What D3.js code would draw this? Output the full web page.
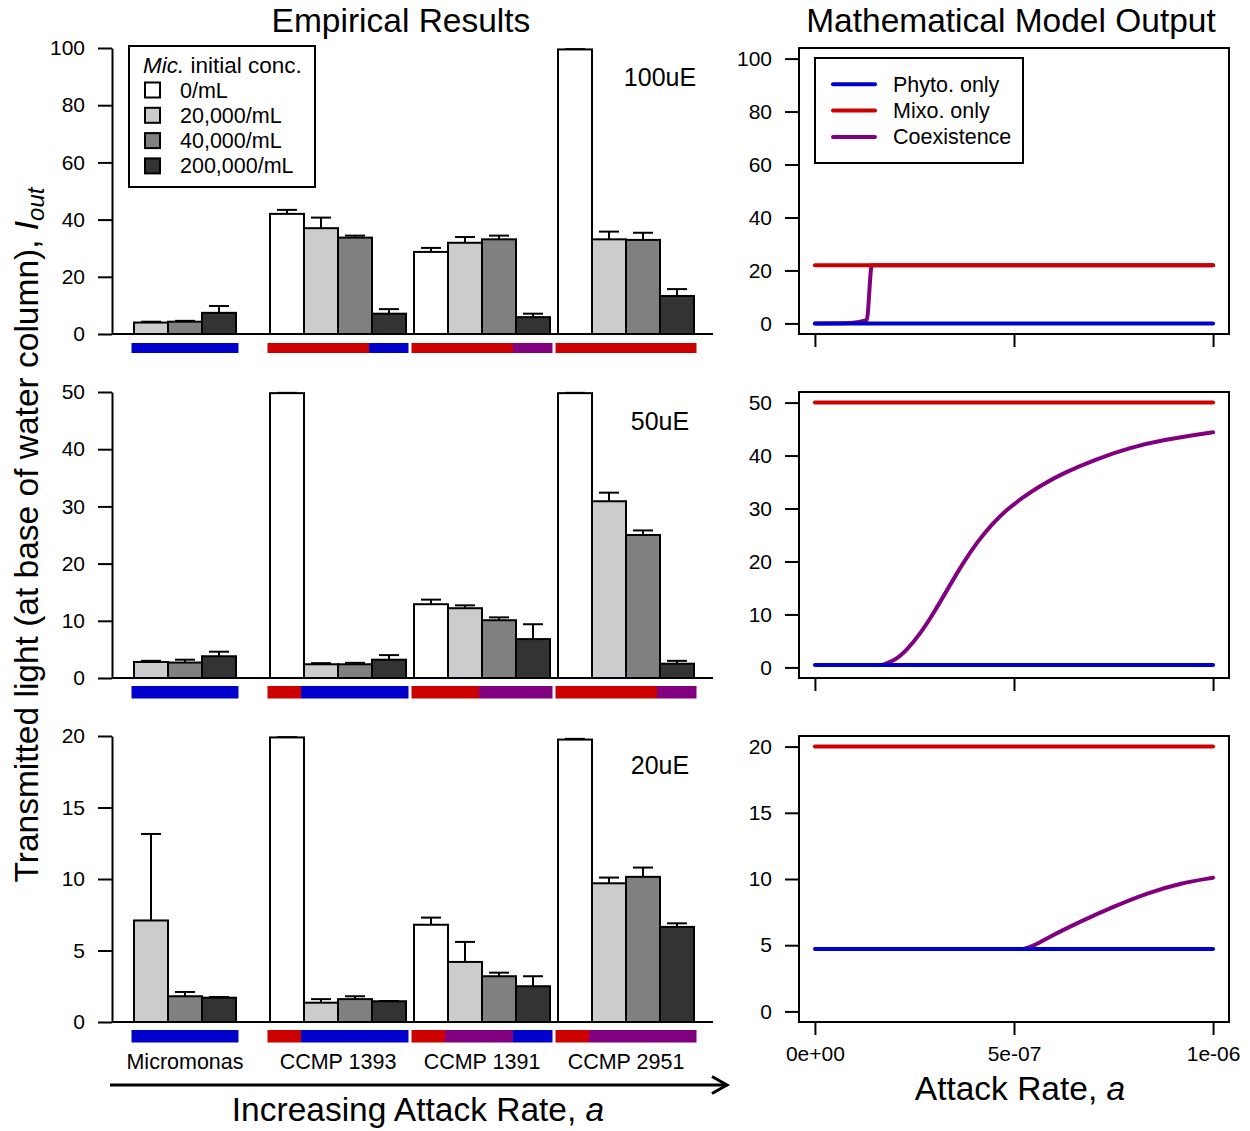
<!DOCTYPE html>
<html>
<head>
<meta charset="utf-8">
<script src="https://cdn.jsdelivr.net/npm/d3@7"></script>
<style>
  body { margin: 0; background: #fff; }
  svg text { font-family: "Liberation Sans", Arial, Helvetica, sans-serif; fill: #000; }
</style>
</head>
<body>
<div class="chart"></div>
<script>
// ---- data ----
const strains = ["Micromonas", "CCMP 1393", "CCMP 1391", "CCMP 2951"];
const concLabels = ["0/mL", "20,000/mL", "40,000/mL", "200,000/mL"];
const lightLevels = ["100uE", "50uE", "20uE"];
const yTicks = [[0, 20, 40, 60, 80, 100], [0, 10, 20, 30, 40, 50], [0, 5, 10, 15, 20]];

// bar means, one row per strain, one column per Mic. conc (null = not measured)
const means100 = [[null, 4.0, 4.3, 7.4], [42.0, 37.0, 33.7, 7.1], [28.7, 31.9, 33.1, 5.9], [99.5, 33.1, 32.9, 13.3]];
const se100    = [[null, 0.3, 0.3, 2.4], [1.4, 3.7, 0.7, 1.6], [1.4, 2.0, 1.3, 1.2], [0.1, 2.7, 2.5, 2.4]];
const means50  = [[null, 2.8, 2.7, 3.8], [49.8, 2.4, 2.4, 3.2], [12.9, 12.2, 10.1, 6.8], [49.8, 30.9, 25.0, 2.5]];
const se50     = [[null, 0.2, 0.5, 0.8], [0.05, 0.2, 0.25, 0.8], [0.8, 0.5, 0.5, 2.6], [0.05, 1.5, 0.8, 0.5]];
const means20  = [[null, 7.1, 1.8, 1.7], [19.9, 1.35, 1.6, 1.45], [6.8, 4.2, 3.2, 2.5], [19.75, 9.7, 10.15, 6.65]];
const se20     = [[null, 6.05, 0.3, 0.05], [0.02, 0.25, 0.2, 0.02], [0.5, 1.4, 0.25, 0.7], [0.05, 0.4, 0.65, 0.25]];

// model outcome under each bar: P = phyto only, M = mixo only, C = coexistence
const outcome100 = [[null, "P", "P", "P"], ["M", "M", "M", "P"], ["M", "M", "M", "C"], ["M", "M", "M", "M"]];
const outcome50  = [[null, "P", "P", "P"], ["M", "P", "P", "P"], ["M", "M", "C", "C"], ["M", "M", "M", "C"]];
const outcome20  = [[null, "P", "P", "P"], ["M", "P", "P", "P"], ["M", "C", "C", "P"], ["M", "C", "C", "C"]];

// model output
const attackTicks = [0, 5e-7, 1e-6];
const attackTickLabels = ["0e+00", "5e-07", "1e-06"];
const modelSeries = ["Phyto. only", "Mixo. only", "Coexistence"];
const flatA = [0, 1e-6];
const phyto100 = [0, 0],       mixo100 = [22, 22];
const phyto50  = [0.45, 0.45], mixo50  = [50, 50];
const phyto20  = [4.71, 4.71], mixo20  = [20, 20];
// coexistence curves, from where they leave the phyto-only line
const coexA100 = [0, 0.9e-7, 1.3e-7, 1.43e-7, 1e-6];
const coex100  = [0, 0.2, 1.2, 22, 22];
const coexA50  = [1.68e-7, 2.0e-7, 2.3e-7, 2.65e-7, 2.99e-7, 3.35e-7, 3.72e-7, 4.1e-7, 4.45e-7, 4.82e-7,
                  5.2e-7, 5.7e-7, 6.24e-7, 7.08e-7, 7.92e-7, 8.75e-7, 1e-6];
const coex50   = [0.45, 1.25, 3.2, 6.4, 10.35, 15.0, 19.75, 23.9, 27.1, 29.8,
                  32.0, 34.5, 36.7, 39.4, 41.5, 43.0, 44.4];
const coexA20  = [5.24e-7, 5.5e-7, 5.82e-7, 6.66e-7, 7.5e-7, 8.33e-7, 9.17e-7, 1e-6];
const coex20   = [4.71, 4.95, 5.52, 6.78, 7.91, 8.92, 9.68, 10.1];

function init(){

    const w = 1250, h = 1131;
    const font = "'Liberation Sans', Arial, sans-serif";

    // colours
    const concFill = ["#ffffff", "#cccccc", "#808080", "#333333"];
    const outcomeColor = {P: "#0000cd", M: "#cd0000", C: "#800080"};
    const seriesColor = ["#0000cd", "#cd0000", "#800080"];

    const svg = d3.select(".chart").append("svg").attr("width", w).attr("height", h);

    // panel layout
    const panelTop = [48, 392, 736], panelH = 286;
    const leftAxisX = 112, leftEndX = 713;
    const barW = 34;
    const groupStart = [100, 270, 414, 558];   // x of slot 0 in each group
    const stripOff = [9, 8, 8], stripH = [10, 12.5, 12.5];
    const boxL = 799, boxR = 1229;

    const means = [means100, means50, means20];
    const ses = [se100, se50, se20];
    const outcomes = [outcome100, outcome50, outcome20];
    const phyto = [phyto100, phyto50, phyto20];
    const mixo = [mixo100, mixo50, mixo20];
    const coexA = [coexA100, coexA50, coexA20];
    const coex = [coex100, coex50, coex20];

    function styleAxis(g){
        g.attr("font-size", 21).attr("font-family", font);
        g.selectAll("line").attr("stroke", "#000").attr("stroke-width", 2);
        g.selectAll("path").attr("stroke", "#000").attr("stroke-width", 2);
        g.selectAll("text").attr("fill", "#000");
    }

    const xR = d3.scaleLinear().domain([-0.04e-6, 1.04e-6]).range([boxL, boxR]);

    for (let i = 0; i < 3; i++){
        const top = panelTop[i];
        const ymax = d3.max(yTicks[i]);

        // ---------- empirical bars ----------
        const yL = d3.scaleLinear().domain([0, ymax]).range([top + panelH, top]);

        svg.append("g")
            .attr("transform", `translate(${leftAxisX},0)`)
            .call(d3.axisLeft(yL).tickValues(yTicks[i]).tickSize(14).tickPadding(13).tickSizeOuter(0))
            .call(styleAxis);

        svg.append("line")
            .attr("x1", leftAxisX).attr("x2", leftEndX)
            .attr("y1", yL(0)).attr("y2", yL(0))
            .attr("stroke", "#000").attr("stroke-width", 2);

        const rows = [];
        means[i].forEach((row, g) => row.forEach((m, c) => {
            if (m !== null) rows.push({g: g, c: c, mean: m, se: ses[i][g][c], out: outcomes[i][g][c]});
        }));

        // outcome strips under the bars
        const segLeft = d => groupStart[d.g] + d.c * barW - (d.c === (d.g === 0 ? 1 : 0) ? 2.5 : 3);
        const segRight = d => d.c === 3 ? groupStart[d.g] + 4 * barW + 2.5 : groupStart[d.g] + (d.c + 1) * barW - 3;
        svg.append("g").selectAll("rect")
            .data(rows)
            .join("rect")
            .attr("x", segLeft)
            .attr("width", d => segRight(d) - segLeft(d))
            .attr("y", yL(0) + stripOff[i])
            .attr("height", stripH[i])
            .attr("fill", d => outcomeColor[d.out]);

        // error bars first, bars drawn over the lower half
        const eb = svg.append("g").selectAll("g")
            .data(rows)
            .join("g")
            .attr("stroke", "#000").attr("stroke-width", 2);
        eb.append("line")
            .attr("x1", d => groupStart[d.g] + (d.c + 0.5) * barW)
            .attr("x2", d => groupStart[d.g] + (d.c + 0.5) * barW)
            .attr("y1", d => yL(d.mean)).attr("y2", d => yL(d.mean + d.se));
        eb.append("line")
            .attr("x1", d => groupStart[d.g] + (d.c + 0.5) * barW - 10)
            .attr("x2", d => groupStart[d.g] + (d.c + 0.5) * barW + 10)
            .attr("y1", d => yL(d.mean + d.se)).attr("y2", d => yL(d.mean + d.se));

        svg.append("g").selectAll("rect")
            .data(rows)
            .join("rect")
            .attr("x", d => groupStart[d.g] + d.c * barW)
            .attr("y", d => yL(d.mean))
            .attr("width", barW)
            .attr("height", d => yL(0) - yL(d.mean))
            .attr("fill", d => concFill[d.c])
            .attr("stroke", "#000").attr("stroke-width", 2);

        svg.append("text")
            .attr("x", 660).attr("y", top + 38)
            .attr("text-anchor", "middle")
            .attr("font-size", 25)
            .text(lightLevels[i]);

        // ---------- model output ----------
        const yR = d3.scaleLinear().domain([-0.04 * ymax, 1.04 * ymax]).range([top + panelH, top]);

        svg.append("g")
            .attr("transform", `translate(${boxL},0)`)
            .call(d3.axisLeft(yR).tickValues(yTicks[i]).tickSize(14).tickPadding(13))
            .call(styleAxis)
            .call(g => g.select(".domain").remove());

        svg.append("g")
            .attr("transform", `translate(0,${top + panelH})`)
            .call(d3.axisBottom(xR).tickValues(attackTicks).tickSize(13).tickPadding(11)
                .tickFormat((d, j) => i === 2 ? attackTickLabels[j] : ""))
            .call(styleAxis)
            .call(g => g.select(".domain").remove());

        // the 100uE curve jumps, the others are smooth
        const curve = i === 0 ? d3.curveMonotoneX : d3.curveBasis;
        const line = d3.line().x(d => xR(d[0])).y(d => yR(d[1])).curve(curve);
        const flat = d3.line().x(d => xR(d[0])).y(d => yR(d[1]));
        const lines = [
            {d: line(d3.zip(coexA[i], coex[i])), col: seriesColor[2]},
            {d: flat(d3.zip(flatA, phyto[i])), col: seriesColor[0]},
            {d: flat(d3.zip(flatA, mixo[i])), col: seriesColor[1]}
        ];
        svg.append("g").selectAll("path")
            .data(lines)
            .join("path")
            .attr("d", d => d.d)
            .attr("fill", "none")
            .attr("stroke", d => d.col)
            .attr("stroke-width", 4)
            .attr("stroke-linecap", "round")
            .attr("stroke-linejoin", "round");

        svg.append("rect")
            .attr("x", boxL).attr("y", top)
            .attr("width", boxR - boxL).attr("height", panelH)
            .attr("fill", "none").attr("stroke", "#000").attr("stroke-width", 2);
    }

    // ---------- legend: Mic. initial conc. ----------
    const lg = svg.append("g").attr("font-size", 21.5);
    lg.append("rect").attr("x", 129).attr("y", 46).attr("width", 186).attr("height", 141)
        .attr("fill", "#fff").attr("stroke", "#000").attr("stroke-width", 2);
    const lt = lg.append("text").attr("x", 143).attr("y", 73).attr("font-size", 22.5);
    lt.append("tspan").attr("font-style", "italic").text("Mic.");
    lt.append("tspan").text(" initial conc.");
    concLabels.forEach((lab, k) => {
        const cy = 90 + k * 25.3;
        lg.append("rect").attr("x", 145).attr("y", cy - 7.5).attr("width", 15).attr("height", 15)
            .attr("fill", concFill[k]).attr("stroke", "#000").attr("stroke-width", 2);
        lg.append("text").attr("x", 180).attr("y", cy + 7.5).text(lab);
    });

    // ---------- legend: model series ----------
    const ml = svg.append("g").attr("font-size", 21.5);
    ml.append("rect").attr("x", 815).attr("y", 58).attr("width", 208).attr("height", 105)
        .attr("fill", "#fff").attr("stroke", "#000").attr("stroke-width", 2);
    modelSeries.forEach((lab, k) => {
        const cy = 84.3 + k * 26.3;
        ml.append("line").attr("x1", 833).attr("x2", 875).attr("y1", cy).attr("y2", cy)
            .attr("stroke", seriesColor[k]).attr("stroke-width", 4).attr("stroke-linecap", "round");
        ml.append("text").attr("x", 893).attr("y", cy + 7.5).text(lab);
    });

    // ---------- titles ----------
    svg.append("text").attr("x", 401).attr("y", 32).attr("text-anchor", "middle")
        .attr("font-size", 33.5).text("Empirical Results");
    svg.append("text").attr("x", 1011).attr("y", 32).attr("text-anchor", "middle")
        .attr("font-size", 33.5).text("Mathematical Model Output");

    // y axis title
    const yt = svg.append("text")
        .attr("transform", "translate(38,535) rotate(-90)")
        .attr("text-anchor", "middle")
        .attr("font-size", 33.5);
    yt.append("tspan").text("Transmitted light (at base of water column), ");
    yt.append("tspan").attr("font-style", "italic").text("I");
    yt.append("tspan").attr("font-style", "italic").attr("font-size", 24).attr("dy", 6).text("out");

    // strain labels
    svg.append("g").selectAll("text")
        .data(strains)
        .join("text")
        .attr("x", (d, g) => groupStart[g] + ((g === 0 ? 1 : 0) + 4) / 2 * barW)
        .attr("y", 1069)
        .attr("text-anchor", "middle")
        .attr("font-size", 21.5)
        .text(d => d);

    // arrow
    svg.append("line").attr("x1", 110).attr("x2", 727).attr("y1", 1085).attr("y2", 1085)
        .attr("stroke", "#000").attr("stroke-width", 3);
    svg.append("path").attr("d", "M712,1076.5L727,1085L712,1093.5")
        .attr("fill", "none").attr("stroke", "#000").attr("stroke-width", 3);

    const xt1 = svg.append("text").attr("x", 418).attr("y", 1121).attr("text-anchor", "middle").attr("font-size", 33.5);
    xt1.append("tspan").text("Increasing Attack Rate, ");
    xt1.append("tspan").attr("font-style", "italic").text("a");

    const xt2 = svg.append("text").attr("x", 1020).attr("y", 1100).attr("text-anchor", "middle").attr("font-size", 33.5);
    xt2.append("tspan").text("Attack Rate, ");
    xt2.append("tspan").attr("font-style", "italic").text("a");
}
window.onload = init;
</script>
</body>
</html>
